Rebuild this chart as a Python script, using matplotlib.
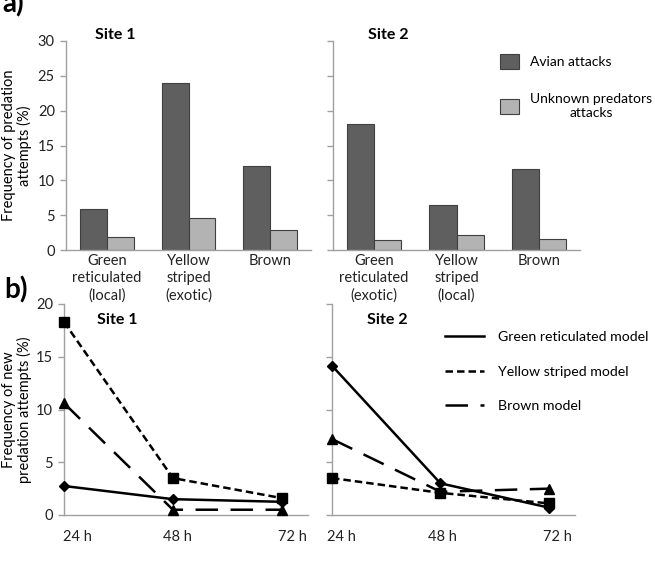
import matplotlib
matplotlib.use("Agg")
import matplotlib.pyplot as plt
import matplotlib.transforms as mtransforms

plt.rcParams['font.family'] = ['Lato', 'DejaVu Sans']

# ---- data ----
cats_site1 = ["Green\nreticulated\n(local)", "Yellow\nstriped\n(exotic)", "Brown"]
cats_site2 = ["Green\nreticulated\n(exotic)", "Yellow\nstriped\n(local)", "Brown"]
avian_site1 = [5.9, 24.0, 12.0]
unknown_site1 = [1.9, 4.6, 2.85]
avian_site2 = [18.1, 6.4, 11.6]
unknown_site2 = [1.5, 2.2, 1.6]

times = ["24 h", "48 h", "72 h"]
green_site1 = [2.75, 1.5, 1.25]
yellow_site1 = [18.3, 3.5, 1.6]
brown_site1 = [10.6, 0.5, 0.5]
green_site2 = [14.15, 3.0, 0.7]
yellow_site2 = [3.5, 2.1, 1.1]
brown_site2 = [7.2, 2.2, 2.5]

W, H = 655, 563
fig = plt.figure(figsize=(W / 100, H / 100), dpi=100)

def ax_px(x0, x1, y0, y1):
    return fig.add_axes([x0 / W, 1 - y1 / H, (x1 - x0) / W, (y1 - y0) / H])

DARK = '#5f5f5f'
LIGHT = '#b3b3b3'
EDGE = '#3f3f3f'
SPINE = '#a0a0a0'
FS = 10.5

def style(ax, show_ylabels=True):
    for s in ['top', 'right']:
        ax.spines[s].set_visible(False)
    for s in ['left', 'bottom']:
        ax.spines[s].set_color(SPINE)
        ax.spines[s].set_linewidth(1.0)
    ax.tick_params(axis='y', length=4, width=1, color=SPINE, labelsize=FS,
                   labelcolor='#222222', pad=4)
    ax.tick_params(axis='x', length=0, labelsize=FS, labelcolor='#222222')
    if not show_ylabels:
        ax.tick_params(axis='y', labelleft=False)

# ---- a) bars ----
bw = 0.33
for (x0, x1), cats, av, un, showy, title, tx in [
        ((66, 311), cats_site1, avian_site1, unknown_site1, True, "Site 1", 0.118),
        ((333, 580), cats_site2, avian_site2, unknown_site2, False, "Site 2", 0.142)]:
    ax = ax_px(x0, x1, 41, 250)
    xs = list(range(len(cats)))
    ax.bar([x - bw / 2 for x in xs], av, width=bw, color=DARK, edgecolor=EDGE,
           linewidth=0.8, label="Avian attacks")
    ax.bar([x + bw / 2 for x in xs], un, width=bw, color=LIGHT, edgecolor=EDGE,
           linewidth=0.8, label="Unknown predators\nattacks")
    ax.set_xlim(-0.5, 2.5)
    ax.set_ylim(0, 30)
    ax.set_yticks([0, 5, 10, 15, 20, 25, 30])
    ax.set_xticks(xs)
    ax.set_xticklabels(cats, linespacing=1.3)
    style(ax, showy)
    ax.tick_params(axis='x', pad=3)
    ax.text(tx, 1.029, title, transform=ax.transAxes, fontsize=11.5,
            fontweight='bold', ha='left', va='center')
    if showy:
        ax.set_ylabel("Frequency of predation\nattempts (%)", fontsize=FS,
                      linespacing=1.1)
        ax.yaxis.set_label_coords(-0.139, 0.5)
    else:
        leg = ax.legend(loc='upper left', bbox_to_anchor=(500 / W, 1 - 54 / H),
                        bbox_transform=fig.transFigure, frameon=False,
                        fontsize=10, handlelength=1.37, handleheight=1.3,
                        handletextpad=0.8, labelspacing=1.7, borderpad=0,
                        borderaxespad=0)
        for t in leg.get_texts():
            t.set_multialignment('center')

# ---- b) lines ----
LW = 1.8
for (x0, x1), g, y, b, showy, title, tx in [
        ((64, 308), green_site1, yellow_site1, brown_site1, True, "Site 1", 0.135),
        ((332, 575), green_site2, yellow_site2, brown_site2, False, "Site 2", 0.144)]:
    ax = ax_px(x0, x1, 304, 515)
    xs = list(range(len(times)))
    ax.plot(xs, g, color='black', lw=LW, ls='-', marker='D', ms=5,
            label="Green reticulated model", clip_on=False, zorder=3)
    ax.plot(xs, y, color='black', lw=LW, ls=(0, (3, 1.6)), marker='s', ms=7,
            label="Yellow striped model", clip_on=False, zorder=3)
    ax.plot(xs, b, color='black', lw=LW, ls=(0, (9, 5)), marker='^', ms=7.5,
            label="Brown model", clip_on=False, zorder=3)
    ax.set_xlim(0, 2.24)
    ax.set_ylim(0, 20)
    ax.set_yticks([0, 5, 10, 15, 20])
    ax.set_xticks(xs)
    ax.set_xticklabels(times)
    style(ax, showy)
    ax.tick_params(axis='x', pad=11)
    offs = [13, 5, 11] if showy else [9, 2, 8]
    for lab, dx in zip(ax.get_xticklabels(), offs):
        lab.set_transform(lab.get_transform() +
                          mtransforms.ScaledTranslation(dx / 100, 0, fig.dpi_scale_trans))
    ax.text(tx, 0.924, title, transform=ax.transAxes,
            fontsize=11.5, fontweight='bold', ha='left', va='center')
    if showy:
        ax.set_ylabel("Frequency of new\npredation attempts (%)", fontsize=FS,
                      linespacing=1.1)
        ax.yaxis.set_label_coords(-0.131, 0.5)
    else:
        ax.legend(loc='upper left', bbox_to_anchor=(445 / W, 1 - 331 / H),
                  bbox_transform=fig.transFigure, frameon=False, fontsize=10.2,
                  handlelength=2.75, handletextpad=1.0, labelspacing=1.6,
                  borderpad=0, borderaxespad=0)
        for line in ax.get_legend().get_lines():
            line.set_marker('')

fig.text(2 / W, 1 - 4 / H, "a)", fontsize=20, fontweight='bold', ha='left', va='center')
fig.text(4 / W, 1 - 290 / H, "b)", fontsize=20, fontweight='bold', ha='left', va='center')

fig.savefig("out.png", dpi=100)
